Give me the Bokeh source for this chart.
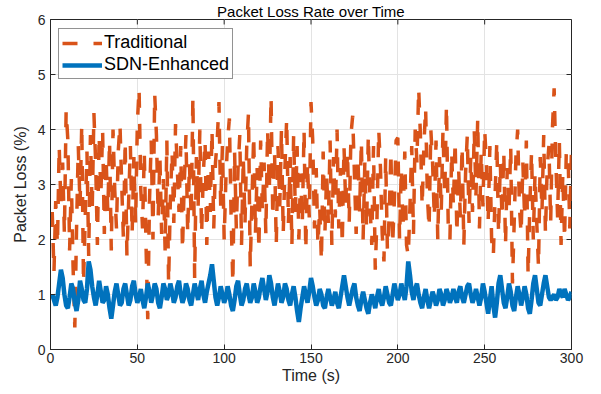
from bokeh.plotting import figure
from bokeh.models import Range1d, Legend, LegendItem, FixedTicker, ColumnDataSource
from bokeh.embed import file_html
from bokeh.resources import INLINE

time_s = list(range(1, 301))

traditional = [
    2.5, 1.4, 2.7, 1.9, 3.7, 2.6, 3.4, 2.1, 4.35, 3.8,
    1.8, 3.1, 1.5, 0.4, 2.2, 3.7, 2.6, 4.1, 1.2, 2.4,
    3.6, 1.7, 3.9, 2.5, 4.3, 3.4, 1.9, 3.9, 2.8, 4.0,
    2.1, 3.5, 2.5, 3.8, 1.8, 4.0, 2.9, 2.2, 3.6, 4.1,
    3.0, 2.0, 3.8, 1.7, 2.7, 3.7, 2.1, 3.5, 2.3, 4.1,
    4.75, 2.9, 2.2, 3.6, 1.9, 0.55, 2.7, 3.8, 2.0, 4.65,
    3.9, 2.4, 3.5, 2.1, 3.1, 1.8, 3.8, 1.2, 2.7, 3.6,
    2.3, 4.1, 3.3, 2.5, 3.7, 1.8, 3.0, 3.9, 2.1, 3.4,
    2.4, 4.6, 1.3, 3.5, 2.6, 4.0, 2.1, 3.2, 3.8, 1.9,
    3.6, 2.5, 4.0, 2.2, 3.4, 3.8, 4.5, 2.6, 3.7, 2.0,
    3.1, 3.8, 4.2, 2.4, 1.2, 3.6, 2.2, 3.3, 3.9, 1.9,
    3.5, 2.3, 3.7, 4.3, 1.5, 2.7, 3.9, 2.1, 3.3, 1.8,
    3.8, 2.5, 3.4, 2.1, 4.0, 2.9, 4.6, 2.4, 3.6, 1.9,
    3.7, 2.6, 4.0, 2.1, 3.3, 4.2, 2.3, 3.5, 1.9, 3.9,
    2.5, 3.7, 2.0, 3.2, 2.3, 4.0, 1.8, 3.4, 2.4, 4.5,
    3.8, 2.2, 3.3, 1.9, 2.6, 1.6, 3.6, 2.1, 3.2, 2.3,
    3.8, 1.9, 3.5, 2.4, 4.0, 2.2, 3.3, 1.9, 3.7, 2.6,
    3.6, 2.3, 3.9, 4.25, 3.2, 2.1, 3.5, 2.5, 3.8, 2.0,
    3.4, 2.2, 3.9, 2.6, 1.9, 3.7, 1.45, 2.4, 4.0, 3.3,
    2.1, 1.6, 3.5, 1.8, 2.4, 3.6, 1.9, 2.7, 3.8, 3.85,
    2.0, 3.3, 2.2, 3.6, 1.9, 1.7, 2.6, 3.7, 2.1, 4.0,
    3.4, 4.75, 3.9, 2.6, 3.7, 4.4, 2.8, 2.2, 4.0, 3.4,
    2.4, 3.8, 2.0, 3.5, 2.5, 4.0, 2.8, 4.45, 2.3, 2.0,
    3.6, 2.6, 3.8, 2.1, 3.3, 2.4, 3.7, 1.9, 3.2, 3.9,
    2.3, 3.5, 2.5, 4.0, 2.8, 4.2, 2.2, 3.6, 2.6, 4.0,
    3.4, 2.3, 3.7, 2.0, 1.7, 2.8, 3.8, 2.1, 3.4, 2.4,
    3.6, 1.9, 3.3, 2.5, 3.7, 1.2, 2.3, 3.5, 4.0, 2.6,
    2.1, 3.4, 2.4, 3.8, 1.35, 2.6, 3.6, 2.0, 3.2, 2.3,
    1.5, 3.5, 2.5, 3.9, 2.1, 3.3, 3.7, 2.3, 4.0, 4.75,
    3.4, 2.4, 3.8, 1.9, 3.2, 2.0, 3.6, 3.6, 2.2, 3.7,
]

sdn_enhanced = [
    1.0, 0.9, 0.8, 0.95, 1.2, 1.45, 1.3, 1.0, 0.8, 0.75,
    0.95, 1.2, 1.1, 0.85, 0.7, 0.9, 1.25, 1.1, 0.9, 0.85,
    1.1, 1.6, 1.45, 1.15, 0.95, 0.8, 1.0, 1.25, 1.05, 0.85,
    0.9, 1.15, 1.0, 0.75, 0.56, 0.8, 1.05, 1.2, 1.0, 0.8,
    0.85, 1.1, 1.2, 1.0, 0.8, 0.9, 1.15, 1.25, 1.0, 0.85,
    0.95, 1.1, 0.9, 0.75, 0.95, 1.2, 1.05, 0.85, 1.0, 1.2,
    1.1, 0.85, 0.75, 0.95, 1.2, 1.1, 0.9, 1.0, 1.2, 1.05,
    0.85, 0.95, 1.15, 1.25, 1.0, 0.85, 0.95, 1.2, 1.1, 0.9,
    0.8, 1.0, 1.2, 1.05, 0.9, 1.1, 1.25, 1.0, 0.85, 1.05,
    1.2, 1.35, 1.55, 1.25, 0.95, 0.8, 0.95, 1.15, 1.0, 0.85,
    0.95, 1.15, 1.0, 0.8, 0.7, 0.9, 1.15, 1.25, 1.0, 0.8,
    0.9, 1.1, 1.2, 1.0, 0.85, 0.95, 1.2, 1.05, 0.85, 0.95,
    1.15, 1.3, 1.1, 0.9, 1.05, 1.35, 1.2, 0.95, 0.8, 1.0,
    1.2, 1.05, 0.85, 0.95, 1.2, 1.1, 0.9, 0.8, 1.0, 1.15,
    0.95, 0.7, 0.5, 0.75, 0.95, 1.15, 1.0, 0.85, 1.05, 1.3,
    1.15, 0.95, 0.8, 0.9, 1.1, 1.0, 0.8, 0.75, 0.95, 1.1,
    0.95, 0.8, 0.9, 1.05, 0.85, 0.75, 0.95, 1.15, 1.35, 1.15,
    0.95, 0.8, 0.95, 1.1, 1.2, 0.95, 0.8, 0.7, 0.9, 1.05,
    0.9, 0.75, 0.65, 0.85, 1.0, 0.9, 0.75, 0.95, 1.1, 0.9,
    0.8, 0.95, 1.15, 1.0, 0.85, 0.8, 1.0, 1.2, 1.05, 0.9,
    1.0, 1.2, 1.05, 0.9, 1.15, 1.6, 1.35, 1.05, 0.9, 1.1,
    1.2, 1.0, 0.85, 0.75, 0.95, 1.1, 0.9, 0.75, 0.9, 1.05,
    0.95, 0.8, 0.9, 1.1, 1.0, 0.8, 0.9, 1.1, 1.0, 0.85,
    0.95, 1.1, 0.95, 0.85, 1.05, 1.15, 0.95, 0.85, 1.0, 1.15,
    1.2, 1.0, 0.85, 0.95, 1.1, 0.95, 0.8, 0.95, 1.2, 1.05,
    0.85, 0.65, 0.9, 1.15, 0.8, 0.58, 0.85, 1.2, 1.35, 1.1,
    0.85, 0.75, 0.95, 1.2, 1.05, 0.8, 0.7, 0.95, 1.15, 1.0,
    0.8, 0.95, 1.15, 1.0, 0.75, 0.65, 0.9, 1.2, 1.35, 1.1,
    0.85, 0.8, 1.0, 1.2, 1.35, 1.15, 0.95, 0.9, 0.95, 1.0,
    0.9, 0.95, 1.1, 1.0, 0.95, 1.1, 1.0, 0.9, 0.95, 1.05,
]

x_ticks = [0, 50, 100, 150, 200, 250, 300]
y_ticks = [0, 1, 2, 3, 4, 5, 6]

FONT = "Liberation Sans"
AX = "#262626"

p = figure(width=601, height=394, output_backend="svg", toolbar_location=None,
           x_range=Range1d(0, 300), y_range=Range1d(0, 6),
           min_border_left=50, min_border_right=30, min_border_top=0, min_border_bottom=45)
p.title.text = "Packet Loss Rate over Time"
p.title.align = "center"
p.title.text_font = FONT
p.title.text_font_style = "normal"
p.title.text_font_size = "15px"
p.title.text_color = "#000000"
p.title.standoff = 0

p.background_fill_color = "white"
p.border_fill_color = "white"
p.outline_line_color = AX
p.outline_line_width = 1

for ax, ticks in ((p.xaxis[0], x_ticks), (p.yaxis[0], y_ticks)):
    ax.ticker = FixedTicker(ticks=ticks)
    ax.major_tick_in = 5
    ax.major_tick_out = 0
    ax.minor_tick_line_color = None
    ax.axis_line_color = AX
    ax.major_tick_line_color = AX
    ax.major_label_text_font = FONT
    ax.major_label_text_font_size = "14px"
    ax.major_label_text_color = AX
    ax.axis_label_text_font = FONT
    ax.axis_label_text_font_size = "16px"
    ax.axis_label_text_font_style = "normal"
    ax.axis_label_text_color = AX
p.xaxis.axis_label = "Time (s)"
p.yaxis.axis_label = "Packet Loss (%)"
p.xaxis.major_label_standoff = 3
p.yaxis.major_label_standoff = 5
p.xaxis.axis_label_standoff = 1
p.yaxis.axis_label_standoff = 6

# tick marks on the top and right edges of the box
tick_len_x = 300 * 5 / 521
tick_len_y = 6 * 5 / 332
p.segment(x0=x_ticks, y0=[6] * len(x_ticks), x1=x_ticks, y1=[6 - tick_len_y] * len(x_ticks),
          line_color=AX, line_width=1)
p.segment(x0=[300] * len(y_ticks), y0=y_ticks, x1=[300 - tick_len_x] * len(y_ticks), y1=y_ticks,
          line_color=AX, line_width=1)

p.xgrid.ticker = FixedTicker(ticks=x_ticks)
p.ygrid.ticker = FixedTicker(ticks=y_ticks)
p.grid.grid_line_color = "#e3e3e3"
p.grid.grid_line_width = 1

src = ColumnDataSource(dict(t=time_s, trad=traditional, sdn=sdn_enhanced))
r1 = p.line("t", "trad", source=src, line_color="#D95319", line_width=3.5, line_dash="15 16")
r2 = p.line("t", "sdn", source=src, line_color="#0072BD", line_width=4.5)

legend = Legend(items=[LegendItem(label="Traditional", renderers=[r1]),
                       LegendItem(label="SDN-Enhanced", renderers=[r2])],
                location=(8, 270))
legend.label_text_font = FONT
legend.label_text_font_size = "18px"
legend.label_text_color = "#000000"
legend.border_line_color = AX
legend.border_line_width = 1
legend.background_fill_alpha = 1
legend.glyph_width = 40
legend.glyph_height = 20
legend.label_height = 20
legend.label_standoff = 2
legend.padding = 3
legend.spacing = 1
legend.margin = 0
p.add_layout(legend, "center")

open("out.html", "w").write(file_html(p, INLINE))
